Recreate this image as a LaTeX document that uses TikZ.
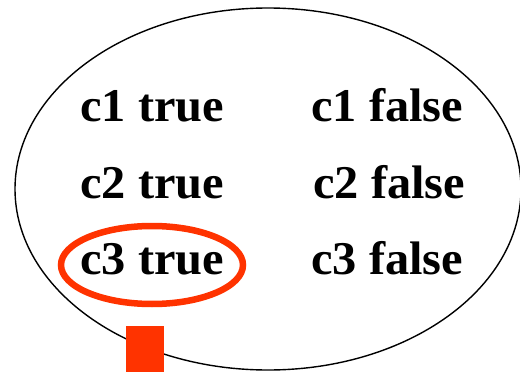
\documentclass[tikz,border=0pt]{standalone}
\usepackage{fontspec}
\setmainfont{Liberation Serif}[FakeStretch=1.03]
\usetikzlibrary{shapes.geometric}
\definecolor{hired}{RGB}{255,51,0}
\tikzset{
  lbl/.style={anchor=base west, inner sep=0pt, font=\fontsize{47}{50}\selectfont\bfseries},
  outerell/.style={ellipse, draw=black, line width=1.4pt, inner sep=0pt},
  markell/.style={ellipse, draw=hired, line width=6.5pt, inner sep=0pt},
  marksq/.style={fill=hired, draw=none, inner sep=0pt, minimum width=38pt, minimum height=48pt}
}
\begin{document}
\begin{tikzpicture}[x=1pt,y=1pt]
\useasboundingbox (0,0) rectangle (520,-372);
\node[outerell, minimum width=506pt, minimum height=362pt] (big) at (268,-189) {};
\node[lbl] (c1t) at (80,-121) {c1 true};
\node[lbl] (c1f) at (311,-121) {c1 false};
\node[lbl] (c2t) at (80,-198) {c2 true};
\node[lbl] (c2f) at (313,-198) {c2 false};
\node[lbl] (c3t) at (80,-274) {c3 true};
\node[lbl] (c3f) at (311,-274) {c3 false};
\node[markell, minimum width=182pt, minimum height=78pt] (mark) at (152,-265) {};
\node[marksq, anchor=north west] (sq) at (126,-326) {};
\end{tikzpicture}
\end{document}
